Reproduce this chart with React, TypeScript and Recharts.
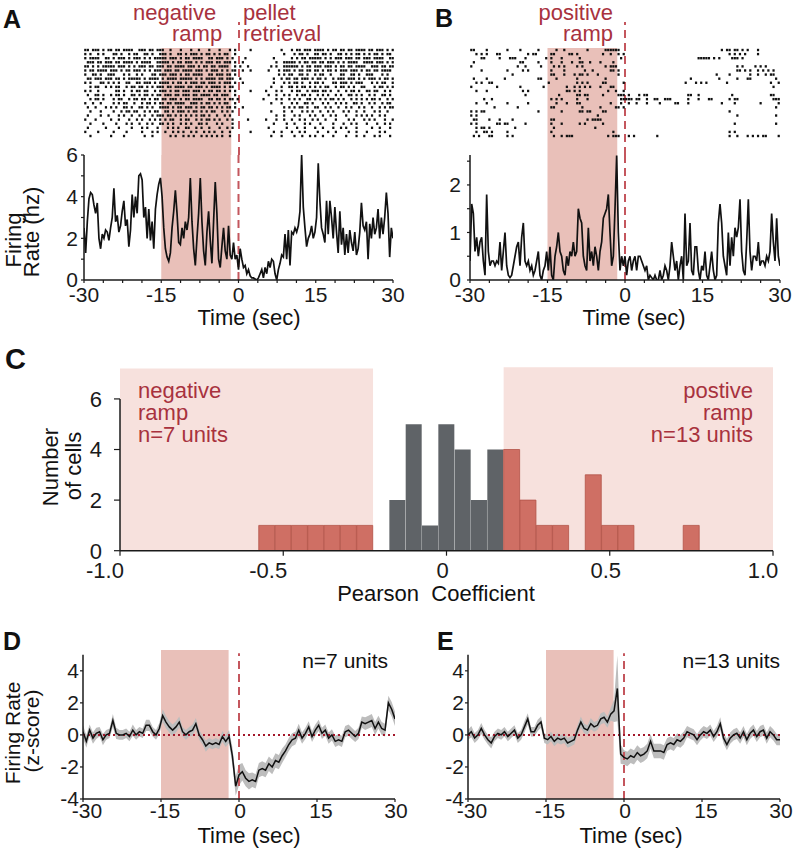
import React from 'react';
import {
  ScatterChart, Scatter, LineChart, Line, XAxis, YAxis, ReferenceArea, ReferenceLine,
  BarChart, Bar, Cell, ComposedChart, Area,
} from 'recharts';

// ---------------- data ----------------
// Raster rows: 4 chunks of 15 s ( -30..-15 | -15..0 | 0..15 | 15..30 ), 0.5 s bins, '#' = spike
const rasterARows: string[] = [
  "##.###.#.# #.##.####. .###.##.##|#..#...#.. .#..#...#. ..#...#.#.|....#..... ......#... #.##.###.#|###.#.##.# #.##.####. ##.###.#.#",
  "#.#..#.#.. .##.#..#.# #..##.#..#|##.#..##.# .###.#.##. #.#.##..#.|.......... .......#.. .#.##.#..#|#.##.#..## .#.#.##.#. #.##.#.##.",
  "#.####..## .#.###.#.# ##.#.#.###|##.###.#.# #.####..## .###.#.#..|..#....... ...#...... #.#.##.###|##.#.#.### .###.##.## #.####..##",
  ".###.##.## #.##.####. #.####..##|###.#.##.# ##.#.#.### .##.###.#.|.#........ ....#..### ##.#.##.##|.##.###.#. #.####..## ##.###.#.#",
  "##.#.#.### ##.###.#.# .###.##.##|#.##.####. ###.#.##.# #.####..#.|#..#...... ..#.#..### ###.#.##.#|##.###.#.# #.##.####. .###.##.##",
  "#.##.####. ###.#.##.# ##.#.#.###|.###.##.## ##.###.#.# ##.#.#.##.|.#..#..... .#...#.### .#.##.##.#|#.#.##.#.# ##.###.#.# #.##.####.",
  "#..##.#..# ##...#.#.. #.#...##.#|##.###.#.# #.####..## .###.##.#.|.......... .....#.#.# #..##.#..#|.##..#...# #..##.#..# ##...#.#..",
  ".##.###.## #.##.#.### ##.#.####.|#.####.### ##.#.#.### #.##.###..|#......... ...#..#.## .##.###.#.|##.#..#.## #.###.#.#. ###.#.##.#",
  "#.#...##.# .#.#..##.. ##.###.#.#|###.#.##.# .###.##.## #.#.###.#.|.#........ ...#...#.# .##.#..#.#|#.#...##.# ##.#.###.. .#.#.##..#",
  "..#.##..#. #.##..#.## .##.#.#.##|#.##.####. ##.###.#.# ###.#.##..|.......... ..#...#..# #.#.##.#.#|.#.##..#.# #.#.#..##. ..#.##.#.#",
  "#.#..#.... ..##.#..#. ##.##..#.#|##.#.##.## #.###.#.## .##.#.#.#.|....#..... #...#.#... #.##..#.##|#.##.#..#. .#.##.#..# #.##..#.#.",
  ".#..##.#.. #.##.#..## .#.##.#.##|.###.##.## #.##.####. ##.###..#.|.......... .#..#..#.# ..#.##.#..|#.#.#..#.# ..##.#.#.. #.#..##.#.",
  "..#.##.#.. .#.##..#.# #.##.#.##.|##.###.#.# #.####..## .##.#.##.#|.........# ....#.#..# .#.#..##.#|.#.#.##.#. #..#.#.#.# .##.#..#.#",
  "#..#..#... .#.#.##..# ..#.##.#.#|#.##.####. .###.#.##. #.#.##..#.|.......... ..#...#... #.#..##.#.|..#.#..#.# .#..##.#.. #.#..#.##.",
  ".#..#...#. #.#..##.#. .##.#.#..#|###.#.##.# ##.#.##.## .#.#.##.#.|.#........ .......#.# .#.##.#..#|#..#.#..#. .#.#..#.#. .#..#.#.##",
  "..#...#... .#..#.##.# #..#.#.##.|.##.#.###. #.##.#.#.# #..#.#.#..|.......... ..#....#.. #...#.#.#.|.#..#.#... #.#..#..#. ..#.#..#..",
  ".#....#..# ...#.#..#. .#.#..#.##|#.##.#.#.# .#.#.##.#. .#..#.#...|.......... ....#..#.. .#.#...#.#|..#..#.#.. .#...#.#.# .#..#.#...",
  "#...#..... #..#...#.. #.#..#.#.#|.#.##..#.# #..#.#.##. #.#..#.#..|...#...... #...#..#.. #..#.#..#.|#..#...#.. ..#.#...#. #.#...#..#",
  "..#....#.. ..#...#.#. .#..#.#..#|#.#.#..#.# .#..##.#.. .#.#...#..|.......... ...#....#. .#...#.#..|.#....#... #..#.#...# ...#..#.#.",
  ".#......#. ...#....#. ..#.#...#.|..#.#.#..# #..#.#..#. ..#..#.#..|.......... .#......#. ..#..#...#|..#...#..# .#...#.... .#..#...#.",
  "#....#.... .#....#... ..#...#.#.|.#..#.#.#. .#.#..#.#. #..#..#...|....#..... ...#..#... #..#.#....|#...#..#.. ..#..#...# ....#.#...",
  "..#....... #....#.... ...#..#...|...#.#..#. #.#..#.#.# .#.#..#...|.......... ..#...#... .#..#..#.#|..#...#... .#...#..#. ..#.#...#.",
];

const rasterBRows: string[] = [
  "##....#... ....#....# ......#...|...#..#... .....#.... ..######..|.......... .......... ..........|.......#.# #.##.#.#.. .#........",
  "..#.#.#... ##........ ..#.##....|.##.....## .#........ .#..#..#.#|.......... .......... ..........|.......... #.#.#.#... .#........",
  "....##.... .#...###.. .#.......#|.#...#.... ..#....... ........#.|.......... .......... ........##|###.#.#... .###.#.... ..........",
  ".#........ .........# #.....#...|.#...#...# ..##..#... #....#....|.......... .......... ..........|.......... .......... ..........",
  "#......... ........#. .#.....#..|..#.#.#... .#.#...... ..#.###...|.......... .......... ..........|.......... ...#.#.... #.#.#.....",
  "....#..... ....#..... #.#.......|.#....#... ....#..#.. ....##.#..|.......... .......... ..........|.......... ...##.#.#. .#.#.#.#..",
  ".......... ......#... ..........|.##...#... #.##.#...# .......#..|.......... .......... ..........|.....#.... #.......#. .#..#.##..",
  ".#....#... ...#...... ......##..|...#...... .#........ ..#.......|.......... .......... .....#....|......#... ...#...##. ........#.",
  "..#.#..##. .......... ..........|#......... .#.#.#.... .##......#|.......... .......... ...#...#.#|.#.......# .......... ......#..#",
  "#......... #........# ........#.|.......#.. #.#.#.#... #...##....|.......... .......... ..........|.......... .......... .......#..",
  "..#...#... .......... #.#.......|.......##. #.#....... ...#..#..#|.......... .......... ..........|.......... .......... ..........",
  ".......... .......... .#........|....#..... .##.##.... .#.....###|.#...#.##. .......... ....##..#.|.......... .#........ ......##..",
  ".....#..#. .......... ..........|.#.#.#.... .#...#.... ........##|###.##..#. .##..###.. ....#...#.|..##...... #.##...... .......###",
  "..#...#... ....#..... ..#.......|...#...#.. .##....... ....#...#.|.#..#...#. ...#.....# #...#.....|.......#.. ..#....... ..#......#",
  ".........# ........#. ..........|.##....... ...#...... #.....##.#|.......... .......... ..........|.......... .......... ........#.",
  "#.#.##.... .......... ......#...|.....#.... ..##.##... .##.......|.......... .......... ..........|.......... #......... ..........",
  "#.#....... .......... ..........|.......... .........# ..........|.......... .......... ..........|.......... ...#...... ........#.",
  ".##....#.. .#....#... ..........|.##....... .....#.### #.........|.......... .......... ..........|.......... .......... ..........",
  "#.#....... ##.##..... .#........|.#...#.... ..#.#..... .#........|.......... .......... ..........|.......... ..#....... ........#.",
  "..#.##.#.. .......#.. ..........|..#....... ........#. ..........|.......... .......... ..........|.......... .......... ..........",
  "..#..##.#. ....#..... ..........|.#........ .......... .....#....|.......... .......... ..........|.......... #.#....... ..........",
  ".#.#...##. ....#.#... ..........|..#..#.### .......... ...#.###..|.#.#...... ..#....... ..........|.......... #..#...#.# .#.##....#",
];

// Peri-event firing rate (Hz), evenly spaced bins from -30 s to +30 s
const psthA: number[] = [
  2.5, 1.3, 2.8, 3.9, 4.2, 4.1, 3.6, 3.2, 3.7, 2.0,
  1.5, 2.2, 2.0, 2.4, 2.3, 1.9, 2.5, 3.0, 4.4, 2.8,
  3.1, 2.3, 2.6, 3.3, 3.8, 2.6, 2.9, 1.6, 2.4, 4.1,
  3.0, 4.0, 3.2, 5.0, 5.1, 4.8, 3.0, 3.5, 2.0, 3.4,
  1.9, 2.8, 1.5, 3.4, 4.1, 4.6, 4.9, 4.0, 2.5, 1.5,
  1.1, 0.9, 1.3, 2.5, 3.3, 4.3, 3.2, 1.8, 1.7, 2.5,
  2.0, 2.8, 2.4, 3.0, 4.9, 2.8, 1.5, 0.7, 2.0, 3.2,
  4.9, 2.8, 1.4, 0.7, 2.3, 3.3, 1.9, 0.8, 2.8, 4.7,
  3.2, 1.0, 0.6, 1.6, 2.5, 1.4, 1.0, 2.6, 1.2, 1.0,
  1.8, 1.0, 1.2, 0.5, 1.5, 1.0, 0.6, 0.7, 0.3, 0.5,
  0.2, 0.1, 0.1, 0.05, 0.0, 0.1, 0.3, 0.5, 0.1, 0.6,
  0.3, 0.9, 0.6, 1.0, 0.9, 0.3, 0.0, 0.5, 0.8, 1.2,
  1.1, 2.2, 1.0, 2.4, 0.7, 2.3, 2.2, 2.5, 2.3, 2.6,
  3.3, 6.0, 3.5, 2.5, 1.6, 2.0, 2.2, 2.6, 2.0, 2.3,
  3.0, 5.6, 3.8, 2.5, 2.2, 1.8, 3.8, 2.2, 3.8, 3.0,
  2.0, 3.5, 2.3, 1.3, 3.3, 1.7, 2.5, 1.2, 2.2, 1.3,
  2.4, 1.8, 1.4, 2.3, 1.2, 1.5, 2.3, 3.7, 2.6, 2.4,
  2.8, 1.0, 2.7, 2.0, 3.0, 2.2, 2.5, 3.4, 2.0, 3.0,
  2.2, 3.0, 4.2, 3.2, 1.1, 2.5, 2.0,
];

const psthB: number[] = [
  0.4, 1.6, 1.4, 0.6, 0.9, 0.5, 0.8, 0.9, 0.4, 0.1,
  1.8, 0.6, 0.3, 0.4, 0.4, 0.3, 0.4, 0.35, 0.8, 0.2,
  0.6, 1.0, 0.3, 0.1, 0.05, 0.1, 0.3, 0.5, 0.7, 0.8,
  0.3, 0.9, 1.2, 0.4, 0.3, 0.4, 0.2, 0.3, 0.1, 0.2,
  0.4, 0.6, 0.1, 0.0, 0.2, 0.3, 0.6, 0.2, 0.7, 0.1,
  0.0, 0.5, 0.7, 1.0, 0.6, 0.5, 0.2, 0.1, 0.5, 0.3,
  0.6, 0.5, 0.8, 0.5, 0.6, 1.5, 1.3, 1.2, 0.5, 0.3,
  0.2, 1.1, 0.4, 0.6, 0.3, 0.7, 0.5, 0.2, 0.6, 0.8,
  1.3, 1.4, 1.5, 1.8, 1.0, 0.3, 0.5, 1.5, 2.62, 1.0,
  0.2, 0.5, 0.3, 0.5, 0.1, 0.4, 0.5, 0.2, 0.4, 0.5,
  0.2, 0.5, 0.5, 0.4, 0.3, 0.2, 0.3, 0.0, 0.1, 0.05,
  0.0, 0.1, 0.0, 0.0, 0.2, 0.0, 0.1, 0.3, 0.2, 0.0,
  0.3, 0.8, 0.5, 0.2, 0.4, 0.0, 0.3, 0.5, 0.0, 1.4,
  0.3, 0.4, 1.2, 0.2, 0.1, 0.7, 0.7, 0.2, 0.0, 0.3,
  0.2, 0.6, 0.1, 0.0, 0.3, 0.6, 0.2, 0.0, 0.1, 1.2,
  1.6, 1.2, 0.5, 0.3, 0.1, 1.0, 0.3, 0.9, 0.5, 1.1,
  0.9, 1.1, 1.7, 0.6, 0.2, 0.1, 0.8, 1.7, 0.6, 0.2,
  0.5, 0.5, 0.4, 0.8, 0.3, 0.4, 0.4, 0.3, 0.5, 0.4,
  0.6, 1.4, 0.8, 0.4, 1.3, 0.5, 0.3,
];

// Histogram of Pearson coefficients (bin centres, 0.05 wide)
const histBins: number[] = [-0.55, -0.5, -0.45, -0.4, -0.35, -0.3, -0.25, -0.15, -0.1, -0.05, 0, 0.05, 0.1, 0.15, 0.2, 0.25, 0.3, 0.35, 0.45, 0.5, 0.55, 0.75];
const histCounts: number[] = [1, 1, 1, 1, 1, 1, 1, 2, 5, 1, 5, 4, 2, 4, 4, 2, 1, 1, 3, 1, 1, 1];
const histGroup: string[] = ['ramp', 'ramp', 'ramp', 'ramp', 'ramp', 'ramp', 'ramp', 'none', 'none', 'none', 'none', 'none', 'none', 'none', 'ramp', 'ramp', 'ramp', 'ramp', 'ramp', 'ramp', 'ramp', 'ramp'];

// Population z-scored firing rate (mean and SEM), evenly spaced bins from -30 s to +30 s
const meanD: number[] = [
  0.2, -0.4, 0.3, -0.2, 0.1, 0.2, -0.3, 0.0, 0.1, 0.9,
  0.1, 0.0, 0.0, 0.1, -0.1, 0.3, 0.0, 0.2, 0.1, 0.6,
  0.6, 0.2, 0.0, 0.4, 1.2, 0.8, 0.5, 0.3, 0.5, 0.8,
  0.2, 0.0, 0.2, 0.3, 0.7, 0.0, -0.3, -0.7, -0.5, -0.6,
  -0.5, -0.6, -0.1, -0.4, -0.1, -1.3, -3.2, -2.5, -2.3, -2.7,
  -2.9, -2.8, -2.9, -2.2, -2.1, -2.2, -1.8, -2.0, -1.6, -1.7,
  -1.3, -1.0, -0.6, -0.3, -0.2, 0.3, -0.2, 0.1, 0.5, -0.1,
  0.3, 0.6, 0.1, 0.3, -0.2, 0.0, -0.4, -0.3, -0.4, 0.2,
  0.3, 0.1, -0.1, 0.1, 0.8, 0.7, 0.8, 0.9, 0.4, 0.8,
  0.4, 0.3, 2.0, 1.6, 1.0,
];
const semD: number[] = [
  0.4, 0.4, 0.35, 0.35, 0.35, 0.3, 0.35, 0.3, 0.3, 0.4,
  0.35, 0.3, 0.3, 0.3, 0.3, 0.35, 0.3, 0.3, 0.3, 0.35,
  0.35, 0.3, 0.3, 0.35, 0.4, 0.4, 0.35, 0.35, 0.35, 0.35,
  0.3, 0.3, 0.3, 0.35, 0.35, 0.3, 0.3, 0.35, 0.3, 0.3,
  0.3, 0.3, 0.35, 0.35, 0.4, 0.55, 0.6, 0.65, 0.55, 0.5,
  0.5, 0.45, 0.45, 0.45, 0.45, 0.45, 0.45, 0.45, 0.45, 0.45,
  0.45, 0.4, 0.4, 0.4, 0.4, 0.4, 0.35, 0.35, 0.35, 0.35,
  0.35, 0.35, 0.35, 0.35, 0.35, 0.35, 0.35, 0.35, 0.35, 0.35,
  0.35, 0.35, 0.35, 0.35, 0.35, 0.4, 0.4, 0.4, 0.4, 0.4,
  0.4, 0.4, 0.45, 0.45, 0.45,
];
const meanE: number[] = [
  0.0, 0.2, -0.2, 0.0, 0.4, 0.0, -0.3, -0.5, -0.1, 0.1,
  0.0, 0.2, -0.1, 0.1, 0.3, -0.2, 0.0, 0.5, 1.0, 0.2,
  0.2, 0.6, 0.8, -0.2, -0.3, -0.1, -0.4, -0.2, -0.3, -0.2,
  -0.5, -0.4, -0.3, 0.3, 0.8, 0.4, 0.3, 0.7, 0.5, 0.6,
  1.0, 1.1, 0.8, 1.3, 1.5, 2.9, -1.2, -1.4, -1.5, -1.3,
  -1.4, -1.1, -1.3, -1.2, -1.0, -0.4, -1.0, -1.0, -1.0, -1.1,
  -0.6, -0.5, -0.6, -0.3, -0.4, -0.2, 0.2, 0.1, 0.0, -0.3,
  0.0, 0.2, 0.1, 0.3, -0.1, 0.2, 0.7, -0.2, -0.6, -0.2,
  0.0, 0.1, -0.2, 0.2, -0.3, 0.1, 0.3, -0.1, 0.2, 0.3,
  -0.2, 0.2, 0.0, -0.3, -0.3,
];
const semE: number[] = [
  0.3, 0.35, 0.3, 0.3, 0.35, 0.3, 0.3, 0.35, 0.3, 0.3,
  0.3, 0.3, 0.3, 0.3, 0.3, 0.3, 0.3, 0.35, 0.35, 0.3,
  0.3, 0.35, 0.35, 0.3, 0.3, 0.3, 0.3, 0.3, 0.3, 0.3,
  0.3, 0.3, 0.3, 0.3, 0.35, 0.3, 0.3, 0.35, 0.3, 0.3,
  0.35, 0.35, 0.35, 0.4, 0.7, 2.05, 0.6, 0.45, 0.45, 0.45,
  0.45, 0.45, 0.45, 0.45, 0.45, 0.45, 0.45, 0.45, 0.45, 0.45,
  0.4, 0.4, 0.4, 0.4, 0.4, 0.4, 0.35, 0.35, 0.35, 0.35,
  0.35, 0.35, 0.35, 0.35, 0.35, 0.35, 0.4, 0.35, 0.35, 0.35,
  0.35, 0.35, 0.35, 0.35, 0.35, 0.35, 0.35, 0.35, 0.35, 0.35,
  0.35, 0.35, 0.35, 0.35, 0.35,
];

const timeTicksMinor: number[] = [-30, -26.25, -22.5, -18.75, -15, -11.25, -7.5, -3.75, 0, 3.75, 7.5, 11.25, 15, 18.75, 22.5, 26.25, 30];
const timeTicks: number[] = [-30, -15, 0, 15, 30];
const pearsonTicks: number[] = [-1, -0.5, 0, 0.5, 1];

// ---------------- helpers ----------------
const FONT = "'Liberation Sans', Arial, Helvetica, sans-serif";
const RED_TEXT = '#a8323e';
const PINK = '#e9c0b9';
const PINK_LIGHT = '#f7e1dd';
const DASH = '#c4565d';
const DOT = '#a3182b';
const AXIS = '#1a1a1a';
const TICK_STYLE = { fontSize: 21, fill: '#1a1a1a', fontFamily: FONT };

function evenTimes(n: number) {
  return Array.from({ length: n }, (_, i) => Math.round((-30 + (i * 60) / (n - 1)) * 10000) / 10000);
}

function rasterPoints(rows: string[]) {
  const pts: { t: number; row: number }[] = [];
  rows.forEach((row, r) => {
    row.split('|').slice(0, 4).forEach((chunk, c) => {
      const cells = chunk.replace(/[^#.]/g, '').slice(0, 30);
      for (let j = 0; j < cells.length; j++) {
        if (cells[j] === '#') pts.push({ t: -30 + c * 15 + j * 0.5 + 0.25, row: -r });
      }
    });
  });
  return pts;
}

const rasterA = rasterPoints(rasterARows);
const rasterB = rasterPoints(rasterBRows);
const tA = evenTimes(psthA.length);
const tB = evenTimes(psthB.length);
const psthAData = psthA.map((v, i) => ({ t: tA[i], rate: v }));
const psthBData = psthB.map((v, i) => ({ t: tB[i], rate: v }));
const histData = histBins.map((b, i) => ({ bin: b, count: histCounts[i], group: histGroup[i] }));
const tD = evenTimes(meanD.length);
const tE = evenTimes(meanE.length);
const dData = meanD.map((m, i) => ({ t: tD[i], mean: m, band: [m - semD[i], m + semD[i]] }));
const eData = meanE.map((m, i) => ({ t: tE[i], mean: m, band: [m - semE[i], m + semE[i]] }));

const fmt15 = (v: number) => (v % 15 === 0 ? String(v) : '');
const fmtEven = (v: number) => (v % 2 === 0 ? String(v) : '');
const fmtHalf = (v: number) => (Number.isInteger(v) ? String(v) : '');
const fmtPearson = (v: number) => (v === 0 ? '0' : v.toFixed(1));

// Pearson tick labels sit a little left of their tick marks in the reference
const PearsonTick = (props: any) => {
  const { x, y, payload } = props;
  const v = payload.value as number;
  const dx = v < 0 ? -15 : v === 1 ? -10 : -4;
  return (
    <text x={x + dx} y={y} dy="0.71em" textAnchor="middle" fontSize={22} fill="#1a1a1a" fontFamily={FONT}>
      {fmtPearson(v)}
    </text>
  );
};

// Time tick labels of the z-score panels sit slightly right of their ticks
const ZTimeTick = (props: any) => {
  const { x, y, payload } = props;
  const v = payload.value as number;
  const dx = v === 0 ? 1 : v === 30 ? 1 : 4;
  return (
    <text x={x + dx} y={y} dy="0.71em" textAnchor="middle" fontSize={21} fill="#1a1a1a" fontFamily={FONT}>
      {String(v)}
    </text>
  );
};

const RasterTick = (props: any) => {
  const { cx, cy } = props;
  if (cx == null || cy == null) return null;
  return <rect x={cx - 1.1} y={cy - 1.2} width={2.2} height={2.4} fill="#111" />;
};

const RASTER_YMIN = -25.64;
const RASTER_YMAX = 6.84;

function RasterChart({ data, left, right, pinkTo }: { data: any[]; left: number; right: number; pinkTo: number }) {
  return (
    <ScatterChart width={left + 310 + right} height={160} margin={{ top: 22, right, bottom: 5, left }}>
      <XAxis type="number" dataKey="t" domain={[-30, 30]} allowDataOverflow hide />
      <YAxis type="number" dataKey="row" domain={[RASTER_YMIN, RASTER_YMAX]} allowDataOverflow hide />
      <ReferenceArea x1={-15} x2={pinkTo} y1={RASTER_YMIN} y2={0.5} fill={PINK} fillOpacity={1} stroke="none" />
      <Scatter data={data} isAnimationActive={false} shape={RasterTick} />
      <ReferenceLine x={0} stroke={DASH} strokeWidth={2} strokeDasharray="8 5" />
    </ScatterChart>
  );
}

// ---------------- component ----------------
export default function App() {
  const pos = (left: number, top: number): React.CSSProperties => ({ position: 'absolute', left, top });
  const axisLine = { stroke: AXIS, strokeWidth: 1.5 };
  const tickLine = { stroke: AXIS, strokeWidth: 1.2 };
  return (
    <div style={{ position: 'absolute', left: 0, top: 0, width: 798, height: 853, background: '#fff', overflow: 'hidden', fontFamily: FONT }}>
      {/* A raster */}
      <div style={pos(0, 0)}>
        <RasterChart data={rasterA} left={84} right={7} pinkTo={-1.5} />
      </div>
      {/* B raster */}
      <div style={pos(400, 0)}>
        <RasterChart data={rasterB} left={70} right={18} pinkTo={-1.5} />
      </div>

      {/* A PSTH */}
      <div style={pos(0, 140)}>
        <LineChart width={425} height={200} data={psthAData} margin={{ top: 15, right: 32, bottom: 0, left: 24 }}>
          <XAxis type="number" dataKey="t" domain={[-30, 30]} allowDataOverflow ticks={timeTicksMinor} interval={0}
            tickFormatter={fmt15} height={60} tickSize={3} tickMargin={4} axisLine={axisLine} tickLine={tickLine} tick={TICK_STYLE} />
          <YAxis type="number" domain={[0, 6]} allowDataOverflow ticks={[0, 1, 2, 3, 4, 5, 6]} interval={0}
            tickFormatter={fmtEven} width={60} tickSize={3} tickMargin={3} axisLine={axisLine} tickLine={tickLine} tick={TICK_STYLE} />
          <ReferenceArea x1={-15} x2={-1.5} fill={PINK} fillOpacity={1} stroke="none" />
          <ReferenceLine x={0} stroke={DASH} strokeWidth={2} strokeDasharray="8 5" />
          <Line type="linear" dataKey="rate" stroke="#111" strokeWidth={1.7} dot={false} isAnimationActive={false} />
        </LineChart>
      </div>

      {/* B PSTH */}
      <div style={pos(400, 140)}>
        <LineChart width={398} height={200} data={psthBData} margin={{ top: 15, right: 18, bottom: 0, left: 10 }}>
          <XAxis type="number" dataKey="t" domain={[-30, 30]} allowDataOverflow ticks={timeTicksMinor} interval={0}
            tickFormatter={fmt15} height={60} tickSize={3} tickMargin={4} axisLine={axisLine} tickLine={tickLine} tick={TICK_STYLE} />
          <YAxis type="number" domain={[0, 2.63]} allowDataOverflow ticks={[0, 0.5, 1, 1.5, 2, 2.5]} interval={0}
            tickFormatter={fmtHalf} width={60} tickSize={3} tickMargin={6} axisLine={axisLine} tickLine={tickLine} tick={TICK_STYLE} />
          <ReferenceArea x1={-15} x2={-1.5} fill={PINK} fillOpacity={1} stroke="none" />
          <ReferenceLine x={0} stroke={DASH} strokeWidth={2} strokeDasharray="8 5" />
          <Line type="linear" dataKey="rate" stroke="#111" strokeWidth={1.7} dot={false} isAnimationActive={false} />
        </LineChart>
      </div>

      {/* C histogram */}
      <div style={pos(0, 340)}>
        <BarChart width={798} height={280} data={histData} margin={{ top: 27.3, right: 25, bottom: 0, left: 20 }} barCategoryGap={0} barGap={0}>
          <XAxis type="number" dataKey="bin" domain={[-1, 1]} allowDataOverflow ticks={pearsonTicks} interval={0}
            tickFormatter={fmtPearson} height={69.3} tickSize={5} tickMargin={7} axisLine={axisLine} tickLine={tickLine}
            tick={<PearsonTick />} />
          <YAxis type="number" domain={[0, 7.25]} allowDataOverflow ticks={[0, 2, 4, 6]} interval={0}
            width={100} tickSize={6} tickMargin={12} axisLine={false} tickLine={tickLine} tick={{ ...TICK_STYLE, fontSize: 22 }} />
          <ReferenceArea x1={-1} x2={-0.225} y1={0} y2={7.2} fill={PINK_LIGHT} fillOpacity={1} stroke="none" />
          <ReferenceArea x1={0.175} x2={1} y1={0} y2={7.25} fill={PINK_LIGHT} fillOpacity={1} stroke="none" />
          <ReferenceLine segment={[{ x: -1, y: 0 }, { x: -1, y: 6 }]} stroke={AXIS} strokeWidth={1.5} />
          <Bar dataKey="count" isAnimationActive={false}>
            {histData.map((d, i) => (
              <Cell key={i} fill={d.group === 'ramp' ? '#cf6f64' : '#5f6367'}
                stroke={d.group === 'ramp' ? '#b35348' : '#5f6367'} strokeWidth={d.group === 'ramp' ? 0.8 : 0} />
            ))}
          </Bar>
        </BarChart>
      </div>

      {/* D */}
      <div style={pos(0, 620)}>
        <ComposedChart width={425} height={233} data={dData} margin={{ top: 30, right: 30, bottom: 0, left: 0 }}>
          <XAxis type="number" dataKey="t" domain={[-30, 30]} allowDataOverflow ticks={timeTicks} interval={0}
            height={54} tickSize={3} tickMargin={1} axisLine={axisLine} tickLine={tickLine} tick={<ZTimeTick />} />
          <YAxis type="number" domain={[-4, 5.3]} allowDataOverflow ticks={[-4, -2, 0, 2, 4]} interval={0}
            width={83} tickSize={3} tickMargin={1} axisLine={false} tickLine={tickLine} tick={TICK_STYLE} />
          <ReferenceArea x1={-15} x2={-2} fill={PINK} fillOpacity={1} stroke="none" />
          <ReferenceLine segment={[{ x: -30, y: -4 }, { x: -30, y: 5 }]} stroke={AXIS} strokeWidth={1.5} />
          <Area type="linear" dataKey="band" fill="#bdbdbd" fillOpacity={1} stroke="none" isAnimationActive={false} />
          <ReferenceLine y={0} stroke={DOT} strokeWidth={2} strokeDasharray="2 3" />
          <ReferenceLine segment={[{ x: 0, y: -4 }, { x: 0, y: 5.1 }]} stroke={DASH} strokeWidth={2} strokeDasharray="8 5" />
          <Line type="linear" dataKey="mean" stroke="#111" strokeWidth={1.5} dot={false} isAnimationActive={false} />
        </ComposedChart>
      </div>

      {/* E */}
      <div style={pos(400, 620)}>
        <ComposedChart width={398} height={233} data={eData} margin={{ top: 30, right: 18, bottom: 0, left: 0 }}>
          <XAxis type="number" dataKey="t" domain={[-30, 30]} allowDataOverflow ticks={timeTicks} interval={0}
            height={54} tickSize={3} tickMargin={1} axisLine={axisLine} tickLine={tickLine} tick={<ZTimeTick />} />
          <YAxis type="number" domain={[-4, 5.3]} allowDataOverflow ticks={[-4, -2, 0, 2, 4]} interval={0}
            width={68} tickSize={3} tickMargin={1} axisLine={false} tickLine={tickLine} tick={TICK_STYLE} />
          <ReferenceArea x1={-15} x2={-2} fill={PINK} fillOpacity={1} stroke="none" />
          <ReferenceLine segment={[{ x: -30, y: -4 }, { x: -30, y: 5 }]} stroke={AXIS} strokeWidth={1.5} />
          <Area type="linear" dataKey="band" fill="#bdbdbd" fillOpacity={1} stroke="none" isAnimationActive={false} />
          <ReferenceLine y={0} stroke={DOT} strokeWidth={2} strokeDasharray="2 3" />
          <ReferenceLine segment={[{ x: 0, y: -4 }, { x: 0, y: 5.1 }]} stroke={DASH} strokeWidth={2} strokeDasharray="8 5" />
          <Line type="linear" dataKey="mean" stroke="#111" strokeWidth={1.5} dot={false} isAnimationActive={false} />
        </ComposedChart>
      </div>

      {/* text overlay */}
      <svg width={798} height={853} style={{ position: 'absolute', left: 0, top: 0, pointerEvents: 'none' }} fontFamily={FONT}>
        <g fill="#111" fontWeight="bold" fontSize={25}>
          <text x={3} y={28}>A</text>
          <text x={435} y={27}>B</text>
          <text x={5} y={369} fontSize={29}>C</text>
          <text x={3} y={650}>D</text>
          <text x={437} y={650}>E</text>
        </g>
        <g fill={RED_TEXT} fontSize={22}>
          <text x={133} y={20}>negative</text>
          <text x={172} y={41}>ramp</text>
          <text x={243} y={20}>pellet</text>
          <text x={243} y={41}>retrieval</text>
          <text x={613} y={20} textAnchor="end">positive</text>
          <text x={613} y={41} textAnchor="end">ramp</text>
          <text x={138} y={398}>negative</text>
          <text x={138} y={420}>ramp</text>
          <text x={138} y={442}>n=7 units</text>
          <text x={753} y={398} textAnchor="end">postive</text>
          <text x={753} y={420} textAnchor="end">ramp</text>
          <text x={753} y={442} textAnchor="end">n=13 units</text>
        </g>
        <g fill="#111" fontSize={21}>
          <text x={388} y={668} textAnchor="end">n=7 units</text>
          <text x={780} y={668} textAnchor="end">n=13 units</text>
        </g>
        <g fill="#111" fontSize={22} textAnchor="middle">
          <text x={249} y={325}>Time (sec)</text>
          <text x={634} y={325}>Time (sec)</text>
          <text x={436} y={601}>{'Pearson\u00a0\u00a0Coefficient'}</text>
          <text x={249} y={843}>Time (sec)</text>
          <text x={631} y={843}>Time (sec)</text>
          <text transform="translate(21,240) rotate(-90)">Firing</text>
          <text transform="translate(38.5,232) rotate(-90)">Rate (hz)</text>
          <text transform="translate(58,467) rotate(-90)">Number</text>
          <text transform="translate(81,466) rotate(-90)">of cells</text>
          <text transform="translate(19.5,733) rotate(-90)" fontSize={21}>Firing Rate</text>
          <text transform="translate(39,731) rotate(-90)" fontSize={21}>(z-score)</text>
        </g>
      </svg>
    </div>
  );
}
